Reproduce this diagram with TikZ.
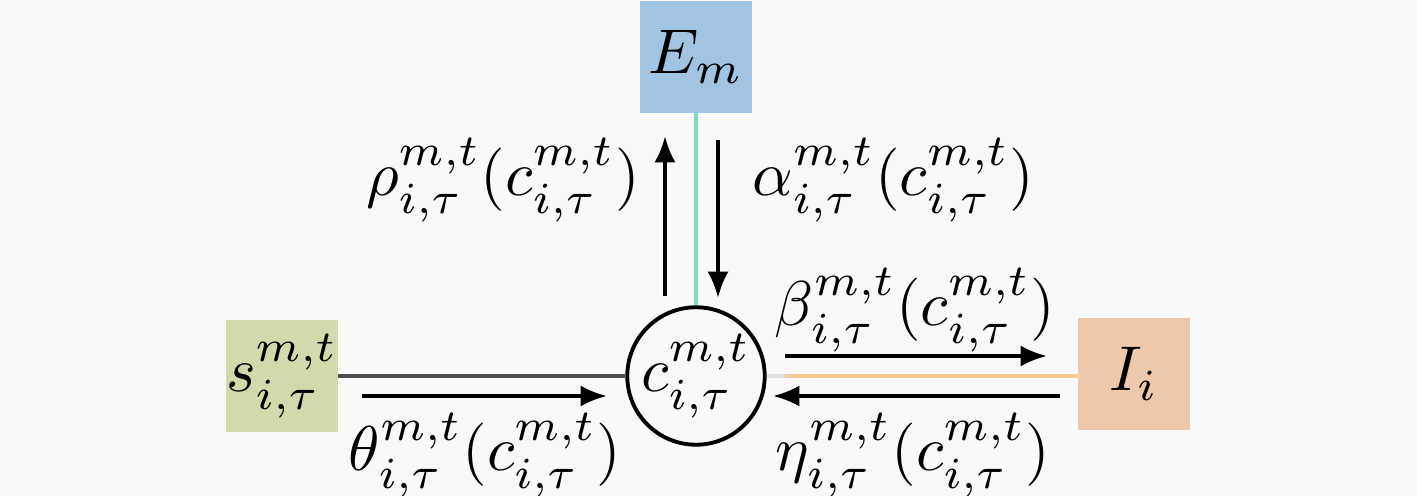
\documentclass[tikz,border=0pt]{standalone}
\usepackage{amsmath}
\usepackage{graphicx}
\usetikzlibrary{arrows.meta}
\definecolor{bgcol}{HTML}{F9F9F9}
\definecolor{ecol}{HTML}{A0C4E2}
\definecolor{scol}{HTML}{D2D9AA}
\definecolor{icol}{HTML}{EEC8AA}
\definecolor{tealcol}{HTML}{80D8C0}
\definecolor{orcol}{HTML}{F8C896}
\newcommand{\mathlbl}[1]{\scalebox{3.6}{$#1$}}
\tikzset{
	box/.style={fill=#1, minimum size=2.24cm, inner sep=0pt},
	lbl/.style={inner sep=0pt},
	flow/.style={-{Latex[length=15pt,width=12pt]}, line width=2.2pt}
}
\begin{document}
\begin{tikzpicture}[x=0.02cm, y=-0.02cm]
			\fill[bgcol] (0, 0) rectangle (1417, 496);
			\useasboundingbox (0, 0) rectangle (1417, 496);
			\node[box=ecol] at (696, 57) (E) {\mathlbl{E_m}};
			\node[box=scol] at (282, 376) (s) {\mathlbl{s^{m,t}_{i,\tau}}};
			\node[box=icol] at (1134, 374) (I) {\mathlbl{I_i}};
			\node[draw, circle, line width=2.2pt, minimum size=2.6cm, inner sep=0pt, fill=bgcol] at (696, 376) (c) {\mathlbl{c^{m,t}_{i,\tau}}};
			% links
			\draw[tealcol, line width=2.2pt] (E) -- (c);
			\draw[black!70, line width=2.2pt] (s) -- (c);
			\draw[black!12, line width=2.2pt] (c.east) -- (I.west |- c.east);
			\coordinate (o) at (785, 376);
			\draw[orcol, line width=2.2pt] (o) -- (I.west |- o);
			% messages
			\coordinate (u1) at (665, 296);
			\coordinate (u2) at (665, 136);
			\coordinate (d1) at (718, 140);
			\coordinate (d2) at (718, 298);
			\coordinate (l1) at (362, 396);
			\coordinate (l2) at (607, 396);
			\coordinate (r1) at (785, 356);
			\coordinate (r2) at (1047, 356);
			\coordinate (b1) at (1060, 396);
			\coordinate (b2) at (773, 396);
			\draw [flow] (u1) to (u2);
			\draw [flow] (d1) to (d2);
			\draw [flow] (l1) to (l2);
			\draw [flow] (r1) to (r2);
			\draw [flow] (b1) to (b2);
			\node[lbl, anchor=east] at (640, 180) (rho) {\mathlbl{\rho^{m,t}_{i,\tau}(c^{m,t}_{i,\tau})}};
			\node[lbl, anchor=west] at (752, 180) (alpha) {\mathlbl{\alpha^{m,t}_{i,\tau}(c^{m,t}_{i,\tau})}};
			\node[lbl] at (915, 310) (beta) {\mathlbl{\beta^{m,t}_{i,\tau}(c^{m,t}_{i,\tau})}};
			\node[lbl] at (485, 455) (theta) {\mathlbl{\theta^{m,t}_{i,\tau}(c^{m,t}_{i,\tau})}};
			\node[lbl] at (913, 455) (eta) {\mathlbl{\eta^{m,t}_{i,\tau}(c^{m,t}_{i,\tau})}};
		\end{tikzpicture}
\end{document}
